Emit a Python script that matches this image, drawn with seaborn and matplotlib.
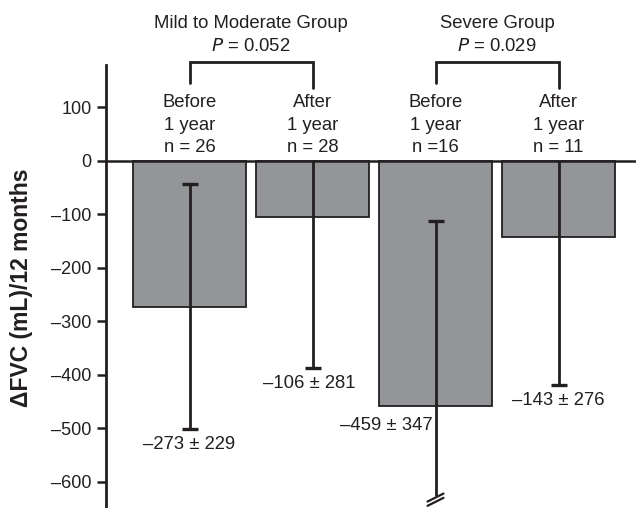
import matplotlib
matplotlib.use("Agg")
import matplotlib.pyplot as plt
import seaborn as sns
import pandas as pd
import numpy as np

# ---- data ----
groups = ["Mild to Moderate Group", "Severe Group"]
p_values = ["0.052", "0.029"]
bar_labels = ["Before\n1 year\nn = 26", "After\n1 year\nn = 28",
              "Before\n1 year\nn =16", "After\n1 year\nn = 11"]
means = [-273, -106, -459, -143]
sds = [229, 281, 347, 276]
yticks = [100, 0, -100, -200, -300, -400, -500, -600]

sns.set_theme(style="white")
plt.rcParams['font.family'] = ['Liberation Sans', 'DejaVu Sans']

fig = plt.figure(figsize=(6.36, 5.08), dpi=100)
ax = fig.add_axes([106/636, 0.0, 1 - 106/636, 1 - 65/508])

df = pd.DataFrame({"bar": [f"b{i}" for i in range(4)], "value": means})
sns.barplot(data=df, x="bar", y="value", color="#939598", saturation=1,
            edgecolor="#231f20", linewidth=1.3, width=0.92, ax=ax, errorbar=None)
for p in ax.patches:
    p.set_facecolor("#939598")

ymin, ymax = -649, 179
ax.set_xlim(-0.679, 3.63)
ax.set_ylim(ymin, ymax)

dark = "#231f20"
# zero line
ax.axhline(0, color=dark, lw=1.8, zorder=3)

# error bars
cap = 0.065
for i, (m, s) in enumerate(zip(means, sds)):
    lo, hi = m - s, m + s
    top = min(hi, 0)
    bot = max(lo, ymin + 22)
    ax.vlines(i, bot, top, color=dark, lw=2.0, zorder=4)
    if hi < 0:
        ax.hlines(hi, i - cap, i + cap, color=dark, lw=2.4, zorder=4)
    if lo > ymin + 22:
        ax.hlines(lo, i - cap, i + cap, color=dark, lw=2.4, zorder=4)
    else:
        # break marks
        for d in (0, -8):
            ax.plot([i - 0.065, i + 0.065], [bot - 10 + d, bot + 5 + d],
                    color=dark, lw=1.6, zorder=4, clip_on=False)

# value labels
fs = 13.3
for i, (m, s) in enumerate(zip(means, sds)):
    txt = f"\u2013{abs(m)} \u00b1 {s}"
    if m - s > ymin + 22:
        ax.annotate(txt, xy=(i, m - s), xytext=(-2 if i == 1 else 0, -11),
                    textcoords="offset points", ha="center", va="center",
                    fontsize=fs, color=dark)
    else:
        ax.annotate(txt, xy=(i, m), xytext=(-2, -14),
                    textcoords="offset points", ha="right", va="center",
                    fontsize=fs, color=dark)

# bar header labels
for i, lab in enumerate(bar_labels):
    for k, line in enumerate(lab.split("\n")):
        ax.text(i, 108 - k * 42, line, ha="center", va="center",
                fontsize=fs, color=dark, clip_on=False)

# group titles, p-values, brackets
for g, (name, pv) in enumerate(zip(groups, p_values)):
    x0, x1 = 2 * g, 2 * g + 1
    xc = (x0 + x1) / 2
    ax.text(xc, 256, name, ha="center", va="center", fontsize=fs,
            color=dark, clip_on=False)
    ax.text(xc, 214, f"$\\it{{P}}$ = {pv}", ha="center", va="center",
            fontsize=fs, color=dark, clip_on=False)
    ax.plot([x0, x0, x1, x1], [146, 184, 184, 136], color=dark, lw=2.0,
            clip_on=False, solid_joinstyle="miter")

# axes styling
ax.set_xticks([])
ax.set_xlabel("")
ax.set_yticks(yticks)
ax.set_yticklabels([str(t) if t >= 0 else f"\u2013{abs(t)}" for t in yticks],
                   fontsize=13, color=dark)
ax.tick_params(axis="y", direction="out", length=6.5, width=1.8, color=dark,
               pad=4, left=True)
for side in ["top", "right", "bottom"]:
    ax.spines[side].set_visible(False)
ax.spines["left"].set_color(dark)
ax.spines["left"].set_linewidth(2.0)
ax.set_ylabel("\u0394FVC (mL)/12 months", fontsize=16.5, fontweight="bold",
              color=dark)
ax.yaxis.set_label_coords(-0.138, 1 - (288 - 65) / (508 - 65))
ax.patch.set_alpha(0)

fig.savefig("out.png", dpi=100)
